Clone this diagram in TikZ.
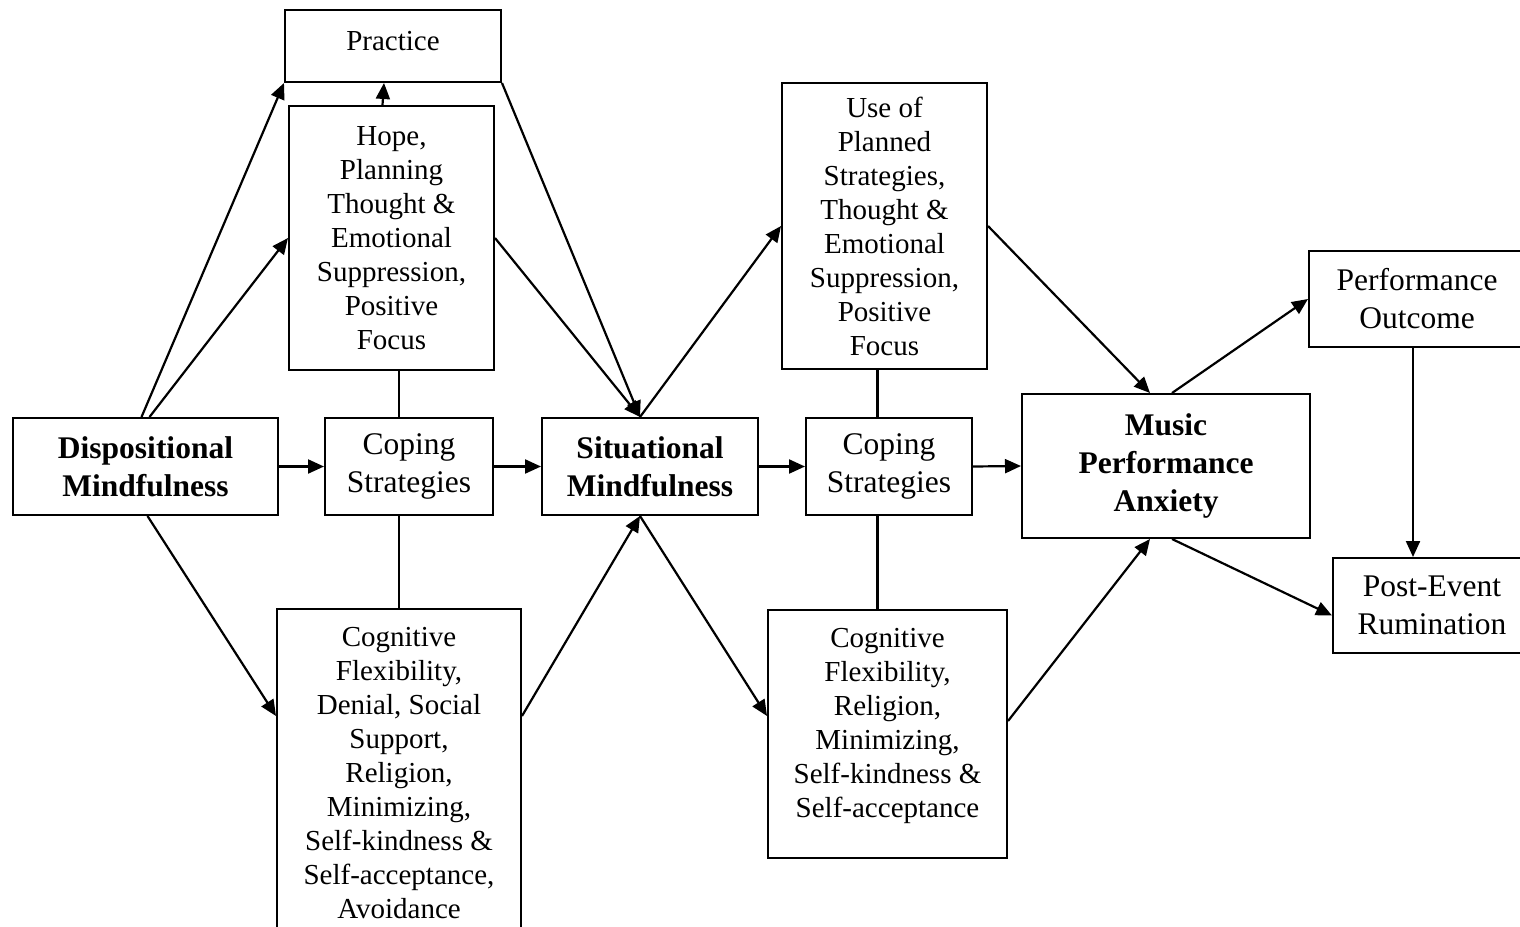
\documentclass[tikz,border=0pt]{standalone}
\usepackage{fontspec}
\setmainfont{Liberation Serif}
\usetikzlibrary{arrows.meta}
\tikzset{
  box/.style={draw, rectangle, line width=2pt, align=center, inner sep=0pt, font=\fontsize{31.5}{38}\selectfont},
  boldbox/.style={box, font=\fontsize{31.5}{38}\selectfont\bfseries},
  tallbox/.style={box, font=\fontsize{29}{34}\selectfont},
  arr/.style={-{Triangle[length=16pt,width=14pt]}, line width=2.2pt},
  link/.style={line width=2.2pt}
}

\begin{document}
\begin{tikzpicture}[x=1pt, y=-1pt]
    \useasboundingbox (0,0) rectangle (1520,926);
    \clip (0,0) rectangle (1520,926);

    % Left half: dispositional mindfulness and first coping strategies
    \node[boldbox, minimum width=265pt, minimum height=97pt] (disp) at (145.5,466.5) {Dispositional\\Mindfulness};
    \node[tallbox, minimum width=216pt, minimum height=72pt, text depth=10pt] (prac) at (393,46) {Practice};
    \node[tallbox, minimum width=205pt, minimum height=264pt] (hope) at (391.5,238) {Hope,\\Planning\\Thought \&\\Emotional\\Suppression,\\Positive\\Focus};
    \node[box, minimum width=168pt, minimum height=97pt] (cop1) at (409,466.5) {Coping\\Strategies};
    \node[tallbox, minimum width=244pt, minimum height=328pt] (cogL) at (399,773) {Cognitive\\Flexibility,\\Denial, Social\\Support,\\Religion,\\Minimizing,\\Self-kindness \&\\Self-acceptance,\\Avoidance};

    % Middle: situational mindfulness and second coping strategies
    \node[boldbox, minimum width=216pt, minimum height=97pt] (sit) at (650,466.5) {Situational\\Mindfulness};
    \node[tallbox, minimum width=205pt, minimum height=286pt] (plan) at (884.5,226) {Use of\\Planned\\Strategies,\\Thought \&\\Emotional\\Suppression,\\Positive\\Focus};
    \node[box, minimum width=166pt, minimum height=97pt] (cop2) at (889,466.5) {Coping\\Strategies};
    \node[tallbox, minimum width=239pt, minimum height=248pt, text depth=23pt] (cogR) at (887.5,734) {Cognitive\\Flexibility,\\Religion,\\Minimizing,\\Self-kindness \&\\Self-acceptance};

    % Right half: anxiety and outcomes
    \node[boldbox, minimum width=288pt, minimum height=144pt] (mpa) at (1166,466) {Music\\Performance\\Anxiety};
    \node[box, minimum width=216pt, minimum height=96pt] (po) at (1417,299) {Performance\\Outcome};
    \node[box, minimum width=198pt, minimum height=95pt] (per) at (1432,605.5) {Post-Event\\Rumination};

    \coordinate (sittop) at ([xshift=-10pt]sit.north);
    \coordinate (sitbot) at ([xshift=-10pt]sit.south);
    \coordinate (rlink) at ([xshift=-10pt]cogR.north);
    \coordinate (podown) at ([xshift=-4pt]po.south);

    % Paths out of dispositional mindfulness
    \draw[arr] ([xshift=-4pt]disp.north) -- (prac.south west);
    \draw[arr] ([xshift=4pt]disp.north) -- (hope.west);
    \draw[arr] (disp.east) -- (cop1.west);
    \draw[arr] ([xshift=2pt]disp.south) -- ([yshift=-108pt]cogL.north west);
    \draw[arr] ([xshift=-9pt]hope.north) -- ([xshift=-9pt]prac.south);

    % Coping strategies tie to their boxes
    \draw[link] (cogL.north |- hope.south) -- (cogL.north |- cop1.north);
    \draw[link] (cogL.north |- cop1.south) -- (cogL.north);
    \draw[link] (rlink |- plan.south) -- (rlink |- cop2.north);
    \draw[link] (rlink |- cop2.south) -- (rlink);

    % Into and out of situational mindfulness
    \draw[arr] (cop1.east) -- (sit.west);
    \draw[arr] (prac.south east) -- (sittop);
    \draw[arr] (hope.east) -- (sittop);
    \draw[arr] ([yshift=-108pt]cogL.north east) -- (sitbot);
    \draw[arr] (sittop) -- (plan.west);
    \draw[arr] (sitbot) -- ([yshift=-107pt]cogR.north west);
    \draw[arr] (sit.east) -- (cop2.west);

    % Into music performance anxiety and beyond
    \draw[arr] (cop2.east) -- (mpa.west);
    \draw[arr] (plan.east) -- ([xshift=-16pt]mpa.north);
    \draw[arr] ([yshift=-112pt]cogR.north east) -- ([xshift=-16pt]mpa.south);
    \draw[arr] ([xshift=6pt]mpa.north) -- (po.west);
    \draw[arr] ([xshift=6pt]mpa.south) -- ([yshift=-10pt]per.west);
    \draw[arr] (podown) -- (podown |- per.north);
\end{tikzpicture}
\end{document}
